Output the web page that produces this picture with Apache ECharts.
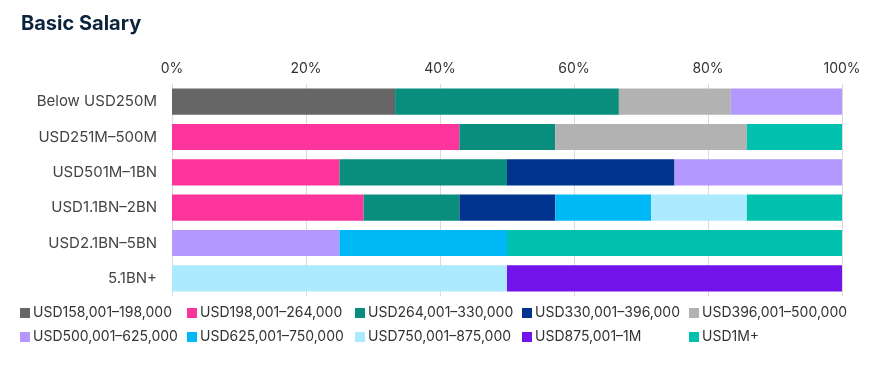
<!DOCTYPE html>
<html><head><meta charset="utf-8">
<script src="https://cdn.jsdelivr.net/npm/echarts@6/dist/echarts.min.js"></script>
<style>html,body{margin:0;padding:0;background:#fff}#c{width:889px;height:391px}</style>
</head><body><div id="c"></div>
<script>
const categories = ['Below USD250M','USD251M–500M','USD501M–1BN','USD1.1BN–2BN','USD2.1BN–5BN','5.1BN+'];
const bandNames = ['USD158,001–198,000','USD198,001–264,000','USD264,001–330,000','USD330,001–396,000','USD396,001–500,000','USD500,001–625,000','USD625,001–750,000','USD750,001–875,000','USD875,001–1M','USD1M+'];
const band158 = [33.3, null, null, null, null, null];
const band198 = [null, 42.9, 25, 28.6, null, null];
const band264 = [33.4, 14.3, 25, 14.3, null, null];
const band330 = [null, null, 25, 14.3, null, null];
const band396 = [16.7, 28.6, null, null, null, null];
const band500 = [16.6, null, 25, null, 25, null];
const band625 = [null, null, null, 14.3, 25, null];
const band750 = [null, null, null, 14.3, null, 50];
const band875 = [null, null, null, null, null, 50];
const band1m  = [null, 14.2, null, 14.2, 50, null];
const xTicks = [0, 20, 40, 60, 80, 100];
const colors = ['#666666','#FD349C','#098E7E','#00338D','#B2B2B2','#B497FF','#00B8F5','#ACEAFF','#7213EA','#00C0AE'];
const seriesData = [band158,band198,band264,band330,band396,band500,band625,band750,band875,band1m];

const FONT = 'Inter';
const chart = echarts.init(document.getElementById('c'));
const legendCols = [20, 187, 355, 522, 689];
const legends = bandNames.map((n, i) => ({
  data: [n],
  left: legendCols[i % 5],
  top: i < 5 ? 306 : 330,
  padding: 0,
  icon: 'rect', itemWidth: 10, itemHeight: 10, itemGap: 0,
  textStyle: {fontFamily: FONT, fontSize: 14, color: '#333', padding: [0,0,0,-2]},
  selectedMode: false
}));
chart.setOption({
  color: colors,
  animation: false,
  title: {text: 'Basic Salary', left: 16, top: 9,
    textStyle: {fontFamily: FONT, fontSize: 20, fontWeight: 'bold', color: '#0C233C'}},
  legend: legends,
  grid: {left: 172, right: 47, top: 84, height: 212},
  xAxis: {type: 'value', position: 'top', min: 0, max: 100, interval: 20,
    axisLine: {show: false}, axisTick: {show: false},
    axisLabel: {formatter: v => xTicks.includes(v) ? v + '%' : '', fontFamily: FONT, fontSize: 14, color: '#333', margin: 8},
    splitLine: {show: true, lineStyle: {color: '#DADADA', width: 1}}},
  yAxis: {type: 'category', data: categories, inverse: true,
    axisLine: {show: false}, axisTick: {show: false},
    axisLabel: {fontFamily: FONT, fontSize: 15, color: '#444', margin: 15}},
  series: seriesData.map((d, i) => ({
    name: bandNames[i], type: 'bar', stack: 'total', data: d,
    barCategoryGap: '26%', itemStyle: {color: colors[i]}
  }))
});
</script></body></html>
